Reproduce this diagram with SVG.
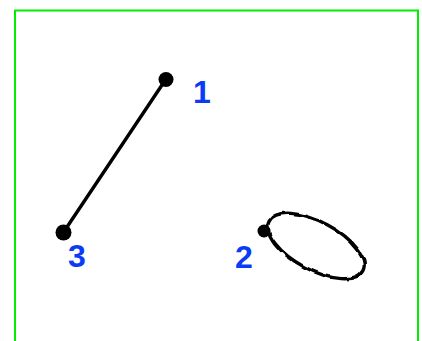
<svg xmlns="http://www.w3.org/2000/svg" width="422" height="341" viewBox="0 0 422 341">
<defs>
<filter id="wiggle" x="-20%" y="-20%" width="140%" height="140%">
<feTurbulence type="fractalNoise" baseFrequency="0.09" numOctaves="1" seed="3" result="n"/>
<feDisplacementMap in="SourceGraphic" in2="n" scale="4" xChannelSelector="R" yChannelSelector="G"/>
</filter>
</defs>
<style>
.lbl{font-family:"Liberation Sans",Arial,sans-serif;font-weight:bold;font-size:32px;fill:#0a3cf5}
.dot{fill:#000}
.edge{fill:none;stroke:#000;stroke-width:3.4;stroke-linecap:round}
</style>
<rect x="15" y="10.5" width="403" height="400" fill="#fff" stroke="#00ee00" stroke-width="2"/>
<g id="connectors">
<line class="edge" x1="166" y1="79" x2="63" y2="233"/>
<g filter="url(#wiggle)"><ellipse class="edge" cx="316" cy="246" rx="53" ry="24" transform="rotate(28 316 246)"/></g>
</g>
<g id="node1"><circle class="dot" cx="166" cy="79.5" r="7.5"/><text class="lbl" x="193" y="103">1</text></g>
<g id="node2"><circle class="dot" cx="264" cy="231" r="6.5"/><text class="lbl" x="235" y="268">2</text></g>
<g id="node3"><circle class="dot" cx="63.5" cy="232.5" r="8"/><text class="lbl" x="68" y="267">3</text></g>
</svg>
